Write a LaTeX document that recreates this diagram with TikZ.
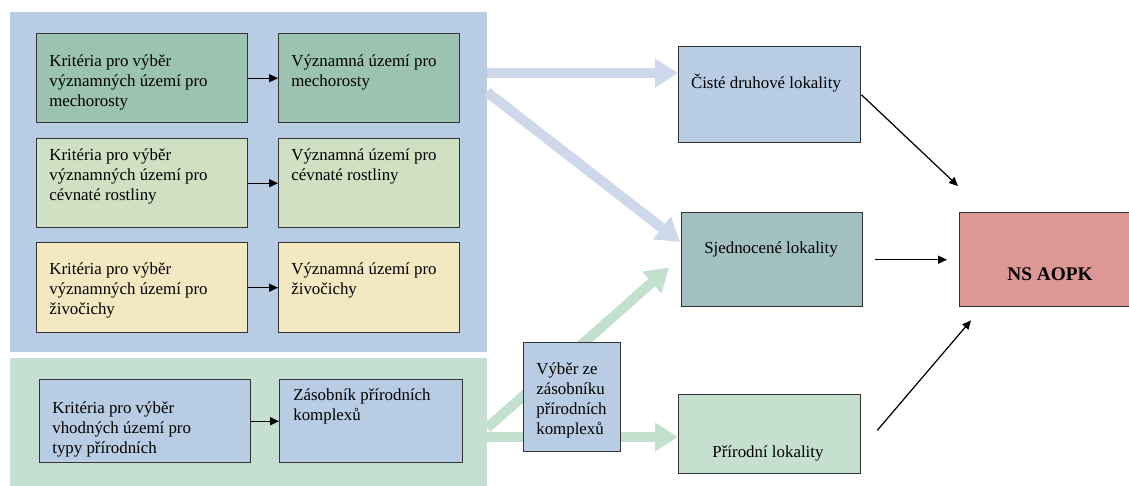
\documentclass[tikz,border=0pt]{standalone}
\usepackage{fontspec}
\setmainfont{Liberation Serif}
\usetikzlibrary{arrows.meta,calc}

\definecolor{panelblue}{HTML}{B8CCE4}
\definecolor{panelgreen}{HTML}{C5E0D2}
\definecolor{mossgreen}{HTML}{9CC3B1}
\definecolor{plantgreen}{HTML}{D0E0C2}
\definecolor{animalyellow}{HTML}{F2E8C2}
\definecolor{unionteal}{HTML}{A3C0C0}
\definecolor{naturegreen}{HTML}{C6E0D0}
\definecolor{nsred}{HTML}{DD9896}
\definecolor{arrowblue}{HTML}{CDD8EA}
\definecolor{arrowgreen}{HTML}{C3DFCE}

\tikzset{
  panel/.style={fill=#1, draw=none, anchor=north west, inner sep=0pt},
  box/.style={fill=#1, draw=black!80, line width=0.8pt, anchor=north west, inner sep=0pt},
  txt/.style={anchor=north west, align=left, inner sep=0pt, font=\fontsize{9.6}{11.4}\selectfont},
  flow/.style={-{Triangle[length=5pt,width=4.5pt]}, line width=0.7pt},
  bigflow/.style={draw=#1, line width=5.7pt, -{Triangle[length=13pt,width=15.5pt]}},
}

\begin{document}
\begin{tikzpicture}[x=0.02cm, y=-0.02cm]
  \useasboundingbox (0,0) rectangle (1129,485);

  \node[panel=panelblue, minimum width=9.54cm, minimum height=6.8cm] (bluepanel) at (10,12) {};
  \node[panel=panelgreen, minimum width=9.54cm, minimum height=2.8cm] (greenpanel) at (10,358) {};

  \node[box=mossgreen, minimum width=4.22cm, minimum height=1.78cm] (kmech) at (36,33) {};
  \node[box=mossgreen, minimum width=3.62cm, minimum height=1.78cm] (vmech) at (278,33) {};
  \node[box=plantgreen, minimum width=4.22cm, minimum height=1.78cm] (kcev) at (36,138) {};
  \node[box=plantgreen, minimum width=3.62cm, minimum height=1.78cm] (vcev) at (278,138) {};
  \node[box=animalyellow, minimum width=4.22cm, minimum height=1.8cm] (kziv) at (36,242) {};
  \node[box=animalyellow, minimum width=3.62cm, minimum height=1.8cm] (vziv) at (278,242) {};
  \node[box=panelblue, minimum width=4.22cm, minimum height=1.66cm] (kprir) at (39,379) {};
  \node[box=panelblue, minimum width=3.66cm, minimum height=1.66cm] (zas) at (279,379) {};

  \node[txt] (tkmech) at (49,54) {Kritéria pro výběr\\významných území pro\\mechorosty};
  \node[txt] (tvmech) at (291,54) {Významná území pro\\mechorosty};
  \node[txt] (tkcev) at (49,148) {Kritéria pro výběr\\významných území pro\\cévnaté rostliny};
  \node[txt] (tvcev) at (291,148) {Významná území pro\\cévnaté rostliny};
  \node[txt] (tkziv) at (49,262) {Kritéria pro výběr\\významných území pro\\živočichy};
  \node[txt] (tvziv) at (291,262) {Významná území pro\\živočichy};
  \node[txt] (tkprir) at (52,401) {Kritéria pro výběr\\vhodných území pro\\typy přírodních};
  \node[txt] (tzas) at (293,388) {Zásobník přírodních\\komplexů};

  \draw[flow] (kmech) -- (vmech);
  \draw[flow] (kcev) -- (vcev);
  \draw[flow] (kziv) -- (vziv);
  \draw[flow] (kprir) -- (zas);

  \node[box=panelblue, minimum width=3.64cm, minimum height=1.92cm] (cis) at (678,46) {};
  \node[box=unionteal, minimum width=3.62cm, minimum height=1.88cm] (sjed) at (681,212) {};
  \node[box=naturegreen, minimum width=3.64cm, minimum height=1.58cm] (prir) at (678,394) {};
  \node[box=nsred, minimum width=3.9cm, minimum height=1.88cm] (ns) at (959,212) {};

  \node[txt, anchor=north, align=center] (tcis) at (766,74) {Čisté druhové lokality};
  \node[txt, anchor=north, align=center] (tsjed) at (771,241) {Sjednocené lokality};
  \node[txt, anchor=north, align=center] (tprir) at (768,445) {Přírodní lokality};
  \node[anchor=base, inner sep=0pt, font=\bfseries\fontsize{11}{13}\selectfont] (tns) at (1050,280) {NS AOPK};

  \coordinate (bl1) at (487,73);
  \coordinate (bl2) at (487,92);
  \coordinate (gr1) at (487,428);
  \coordinate (gr2) at (487,437);
  \draw[bigflow=arrowblue] (bl1) -- (cis.west |- bl1);
  \draw[bigflow=arrowblue] (bl2) -- ($(sjed.north west)+(-1,30)$);
  \draw[bigflow=arrowgreen] (gr1) -- ($(sjed.south west)+(-12,-40)$);
  \draw[bigflow=arrowgreen] (gr2) -- (prir.west |- gr2);

  \node[box=panelblue, minimum width=1.94cm, minimum height=2.18cm] (vyber) at (523,342) {};
  \node[txt] (tvyber) at (536,362) {Výběr ze\\zásobníku\\přírodních\\komplexů};

  \draw[flow] (cis.east) -- ($(ns.north west)+(-1,-26)$);
  \draw[flow, shorten <=0.24cm, shorten >=0.24cm] (sjed.east) -- (ns.west);
  \draw[flow] ($(prir.east)+(16,-4)$) -- ($(ns.south west)+(12,13)$);
\end{tikzpicture}
\end{document}
